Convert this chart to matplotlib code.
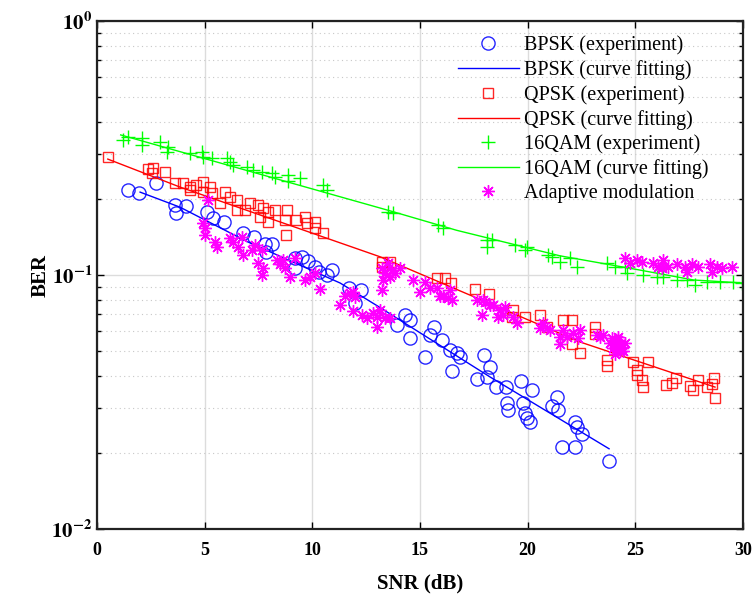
import numpy as np
import matplotlib
matplotlib.use('Agg')
import matplotlib.pyplot as plt
from matplotlib.ticker import FixedLocator, FixedFormatter, NullFormatter

plt.rcParams['font.family'] = ['Liberation Serif', 'DejaVu Serif']
plt.rcParams['mathtext.fontset'] = 'stix'

# BPSK experiment
bpsk_x = [1.44, 1.95, 2.74, 3.62, 3.67, 4.13, 5.11, 5.39, 5.90, 6.78, 7.29, 7.80, 8.13, 7.85,
          9.20, 9.52, 9.80, 9.20, 10.13, 10.31, 10.92, 10.68, 11.70, 12.26, 11.98, 14.31, 14.54,
          13.93, 14.54, 15.65, 15.47, 16.02, 15.23, 16.49, 16.40, 16.72, 16.86, 17.97, 18.25,
          17.65, 18.11, 18.53, 19.00, 19.69, 20.20, 19.04, 19.09, 19.79, 19.88, 19.97, 20.11,
          21.37, 21.13, 21.41, 22.20, 22.29, 22.53, 21.60, 22.20, 23.78]
bpsk_y = [0.216, 0.210, 0.230, 0.188, 0.175, 0.187, 0.177, 0.168, 0.162, 0.146, 0.141, 0.133,
          0.133, 0.123, 0.117, 0.118, 0.114, 0.107, 0.108, 0.103, 0.105, 0.100, 0.089, 0.087,
          0.0775, 0.0697, 0.0665, 0.0636, 0.0565, 0.0624, 0.0580, 0.0555, 0.0477, 0.0419,
          0.0507, 0.0493, 0.0477, 0.0485, 0.0435, 0.0389, 0.0396, 0.0363, 0.0363, 0.0382,
          0.0353, 0.0313, 0.0294, 0.0313, 0.0286, 0.0274, 0.0263, 0.0332, 0.0304, 0.0294,
          0.0263, 0.0251, 0.0236, 0.0211, 0.0211, 0.0186]
# BPSK fitted curve
bpsk_fit_x = [2.0, 3.85, 7.0, 11.29, 13.14, 18.25, 23.78]
bpsk_fit_y = [0.212, 0.185, 0.135, 0.093, 0.0745, 0.0397, 0.0207]

# QPSK experiment
qpsk_x = [0.51, 2.37, 2.60, 2.55, 3.16, 3.62, 3.99, 4.32, 4.32, 4.60, 4.92, 4.92, 5.25, 5.34,
          5.71, 5.95, 6.18, 6.50, 6.50, 6.87, 7.11, 7.48, 7.71, 7.94, 7.57, 7.94, 8.27, 8.82,
          8.73, 9.24, 9.66, 9.75, 10.13, 10.13, 10.50, 8.78, 13.24, 13.24, 13.61, 15.79, 16.16,
          16.44, 17.56, 18.21, 19.32, 19.28, 19.88, 20.58, 21.64, 22.06, 20.90, 23.13, 23.13,
          22.06, 22.43, 23.69, 23.69, 24.90, 25.59, 25.08, 25.08, 25.31, 25.36, 26.43, 26.71,
          26.89, 27.54, 27.68, 27.91, 28.33, 28.56, 28.66, 28.70]
qpsk_y = [0.291, 0.261, 0.264, 0.252, 0.254, 0.230, 0.230, 0.222, 0.216, 0.226, 0.232, 0.212,
          0.222, 0.210, 0.192, 0.212, 0.203, 0.197, 0.180, 0.180, 0.192, 0.189, 0.184, 0.177,
          0.169, 0.162, 0.180, 0.180, 0.165, 0.165, 0.169, 0.160, 0.162, 0.153, 0.146, 0.144,
          0.113, 0.108, 0.113, 0.0975, 0.0975, 0.0931, 0.0883, 0.0842, 0.0728, 0.0684, 0.0684,
          0.0697, 0.0665, 0.0665, 0.0624, 0.0624, 0.0586, 0.0534, 0.0494, 0.0463, 0.0437,
          0.0455, 0.0455, 0.0423, 0.0404, 0.0386, 0.0362, 0.0368, 0.0375, 0.0393, 0.0366,
          0.0353, 0.0386, 0.0362, 0.0372, 0.0393, 0.0328]
qpsk_fit_x = [0.5, 3.85, 13.14, 22.43, 28.7]
qpsk_fit_y = [0.286, 0.222, 0.118, 0.0545, 0.0362]

# 16QAM experiment
qam_x = [1.21, 1.44, 2.09, 2.09, 2.93, 3.30, 3.25, 4.32, 4.88, 4.92, 5.34, 6.04, 6.18, 6.32,
         6.97, 7.25, 7.66, 8.13, 8.27, 8.87, 8.87, 9.43, 10.50, 10.68, 13.52, 13.75, 15.84,
         16.07, 18.11, 18.11, 18.35, 19.41, 19.88, 19.97, 20.95, 21.13, 21.50, 21.97, 22.29,
         23.69, 24.06, 24.52, 24.62, 25.36, 26.01, 26.29, 26.94, 27.40, 27.77, 28.33, 28.94,
         29.54, 29.96]
qam_y = [0.340, 0.350, 0.346, 0.325, 0.334, 0.319, 0.305, 0.302, 0.305, 0.291, 0.289, 0.289,
         0.279, 0.271, 0.266, 0.259, 0.254, 0.252, 0.243, 0.248, 0.235, 0.241, 0.226, 0.216,
         0.177, 0.176, 0.157, 0.153, 0.137, 0.129, 0.137, 0.131, 0.125, 0.129, 0.120, 0.118,
         0.113, 0.117, 0.108, 0.112, 0.108, 0.108, 0.102, 0.100, 0.098, 0.098, 0.0955, 0.0955,
         0.0913, 0.094, 0.094, 0.094, 0.093]
qam_fit_x = [1.1, 13.6, 16.7, 21.5, 25.1, 27.7, 30.0]
qam_fit_y = [0.356, 0.179, 0.150, 0.119, 0.105, 0.0956, 0.093]

# adaptive modulation
adp_x = [5.16, 4.92, 5.02, 5.02, 5.48, 5.57, 6.18, 6.32, 6.55, 6.73, 6.78, 7.20, 7.34, 7.66,
         7.48, 7.71, 7.66, 8.36, 8.50, 8.64, 8.73, 8.96, 9.20, 9.66, 9.89, 10.13, 10.36, 11.29,
         11.52, 11.75, 11.98, 11.89, 12.31, 12.54, 12.82, 13.0, 13.0, 13.14, 13.38, 13.61,
         13.24, 13.38, 13.61, 13.84, 14.07, 13.28, 13.52, 13.70, 13.24, 11.89, 14.68, 15.0,
         15.23, 15.47, 15.79, 15.93, 16.30, 16.49, 16.07, 16.40, 17.65, 17.93, 18.02, 18.25,
         17.88, 18.39, 18.62, 18.72, 18.95, 18.86, 19.32, 19.51, 20.58, 20.72, 20.90, 21.04,
         21.50, 21.64, 21.83, 22.11, 22.34, 22.43, 21.50, 23.22, 23.50, 23.36,
         23.92, 24.06, 24.20, 24.29, 23.97, 24.15, 24.38, 24.06, 24.29, 24.52, 23.83, 24.20,
         24.43, 24.10, 24.25,
         24.52, 24.76, 25.08, 25.31, 25.82, 26.06, 26.29, 26.24, 26.52, 26.94, 27.31, 27.40,
         27.64, 27.91, 28.47, 28.56, 28.80, 29.03, 29.49]
adp_y = [0.197, 0.160, 0.153, 0.144, 0.135, 0.129, 0.140, 0.135, 0.129, 0.141, 0.120, 0.125,
         0.131, 0.125, 0.111, 0.107, 0.100, 0.115, 0.110, 0.115, 0.107, 0.098, 0.117, 0.0955,
         0.098, 0.102, 0.088, 0.076, 0.083, 0.085, 0.082, 0.072, 0.0697, 0.0677, 0.0711,
         0.0684, 0.0625, 0.0728, 0.0677, 0.0677, 0.107, 0.102, 0.098, 0.102, 0.107, 0.0955,
         0.111, 0.105, 0.087, 0.086, 0.0955, 0.086, 0.094, 0.089, 0.089, 0.083, 0.081, 0.080,
         0.083, 0.087, 0.080, 0.080, 0.078, 0.076, 0.0697, 0.076, 0.0684, 0.0728, 0.075,
         0.0697, 0.0684, 0.065, 0.062, 0.0646, 0.062, 0.0607, 0.0568, 0.0607, 0.0568, 0.059,
         0.0565, 0.0607, 0.0534, 0.058, 0.058, 0.0568,
         0.0565, 0.0546, 0.0555, 0.0534, 0.0516, 0.0507, 0.0516, 0.0487, 0.050, 0.0542, 0.0542,
         0.0568, 0.050, 0.053, 0.0525,
         0.117, 0.112, 0.115, 0.113, 0.112, 0.108, 0.115, 0.107, 0.108, 0.110, 0.108, 0.103,
         0.110, 0.108, 0.110, 0.103, 0.108, 0.107, 0.108]

fig = plt.figure(figsize=(7.55, 6), dpi=100)
ax = fig.add_axes([0.1285, 0.1183, 0.8556, 0.8467])

ax.semilogy(bpsk_x, bpsk_y, 'o', mfc='none', mec='#0000ff', ms=9.5, mew=1.0, alpha=0.85,
            label='BPSK (experiment)')
ax.semilogy(bpsk_fit_x, bpsk_fit_y, '-', color='#0000ff', lw=1.0, label='BPSK (curve fitting)')
ax.semilogy(qpsk_x, qpsk_y, 's', mfc='none', mec='#ff0000', ms=7.5, mew=1.0, alpha=0.85,
            label='QPSK (experiment)')
ax.semilogy(qpsk_fit_x, qpsk_fit_y, '-', color='#ff0000', lw=1.0, label='QPSK (curve fitting)')
ax.semilogy(qam_x, qam_y, '+', color='#00ff00', ms=10, mew=1.0, label='16QAM (experiment)')
ax.semilogy(qam_fit_x, qam_fit_y, '-', color='#00ff00', lw=1.0, label='16QAM (curve fitting)')
ax.semilogy(adp_x, adp_y, ls='none', marker=(8, 2, 0), color='#ff00ff', ms=9, mew=1.0,
            label='Adaptive modulation')

ax.set_xlim(0, 30)
ax.set_ylim(1e-2, 1e0)
ax.set_xticks([0, 5, 10, 15, 20, 25, 30])
ax.set_xticklabels(['0', '5', '10', '15', '20', '25', '30'], fontweight='bold', fontsize=13)
ax.yaxis.set_major_locator(FixedLocator([1e-2, 1e-1, 1e0]))
ax.yaxis.set_major_formatter(FixedFormatter([r'$\mathbf{10^{-2}}$', r'$\mathbf{10^{-1}}$',
                                             r'$\mathbf{10^{0}}$']))
minors = [m * 10.0 ** e for e in (-2, -1) for m in range(2, 10)]
ax.yaxis.set_minor_locator(FixedLocator(minors))
ax.yaxis.set_minor_formatter(NullFormatter())
for t in ax.get_yticklabels():
    t.set_fontsize(15)

ax.tick_params(which='both', direction='in', top=True, right=True, width=1.0)
ax.tick_params(which='major', length=5)
ax.tick_params(which='minor', length=3)
ax.tick_params(axis='x', pad=9)

ax.grid(True, which='major', color='#dcdcdc', lw=1.0, ls='-')
ax.grid(True, which='minor', axis='y', color='#c8c8c8', lw=0.8, ls=(0, (1, 3)))
ax.set_axisbelow(True)
for s in ax.spines.values():
    s.set_linewidth(1.6)
    s.set_color('#222222')

ax.set_xlabel('SNR (dB)', fontsize=15, fontweight='bold', labelpad=11)
ax.set_ylabel('BER', fontsize=15, fontweight='bold', labelpad=0)

ax.legend(loc='upper left', bbox_to_anchor=(0.559, 0.972), frameon=False, fontsize=14.5,
          handlelength=3.0, labelspacing=0.25, borderpad=0, borderaxespad=0, handletextpad=0.25)

fig.savefig('out.png', dpi=100)
